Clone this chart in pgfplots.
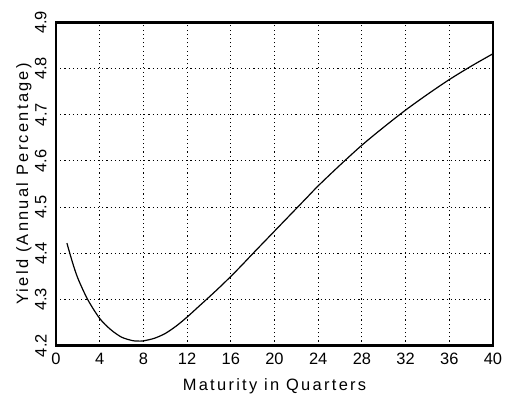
\documentclass[border=0pt]{standalone}
\usepackage{fontspec}
\setmainfont{Liberation Sans}
\newfontfamily\labelfont[LetterSpace=14]{Liberation Sans}
\usepackage{pgfplots}
\pgfplotsset{compat=1.18}
\begin{document}
\begin{tikzpicture}
\begin{axis}[
  scale only axis, width=437bp, height=323.4bp,
  xmin=0, xmax=40, ymin=4.2, ymax=4.9,
  xtick={0,4,8,12,16,20,24,28,32,36,40},
  xticklabels={0,4,8,12,16,20,24,28,32,36,40},
  ytick={4.2,4.3,4.4,4.5,4.6,4.7,4.8,4.9},
  yticklabels={4.2,4.3,4.4,4.5,4.6,4.7,4.8,4.9},
  major tick length=0pt, minor tick length=0pt,
  grid=major,
  major grid style={black, line width=0.9bp, dash pattern=on 1.1bp off 3.1bp},
  axis line style={line width=2.5bp},
  tick label style={font=\fontsize{16.5}{18}\selectfont},
  xticklabel style={anchor=north, inner sep=0pt, yshift=-7.6bp},
  yticklabel style={rotate=90, anchor=south, inner sep=0pt},
  yticklabel shift=9.3bp,
  xlabel={Maturity in Quarters},
  ylabel={Yield (Annual Percentage)},
  label style={font=\labelfont\fontsize{16.5}{18}\selectfont},
  xlabel style={at={(axis description cs:0.5,-0.140)}, anchor=base},
  ylabel style={at={(axis description cs:-0.064,0.5)}, anchor=base},
]
\addplot[black, line width=1.2bp, smooth] coordinates {
(1,4.422) (1.5,4.381) (2,4.346) (2.9,4.300) (4,4.259) (5,4.235) (6,4.2185)
(7,4.2110) (7.5,4.2100) (8,4.2105) (9,4.2160) (10,4.2265) (11,4.2425) (12,4.262)
(13,4.2835) (14,4.305) (15,4.327) (16,4.350) (17,4.374) (18,4.399) (19,4.4235)
(20,4.448) (21,4.4725) (22,4.497) (23,4.5215) (24,4.546) (26,4.591) (28,4.634)
(30,4.673) (32,4.710) (34,4.744) (36,4.776) (38,4.805) (40,4.832)
};
\end{axis}
\pgfresetboundingbox
\path[use as bounding box] ([xshift=-56bp,yshift=-54.3bp]current axis.south west) rectangle ([xshift=17bp,yshift=22.3bp]current axis.north east);
\end{tikzpicture}
\end{document}
